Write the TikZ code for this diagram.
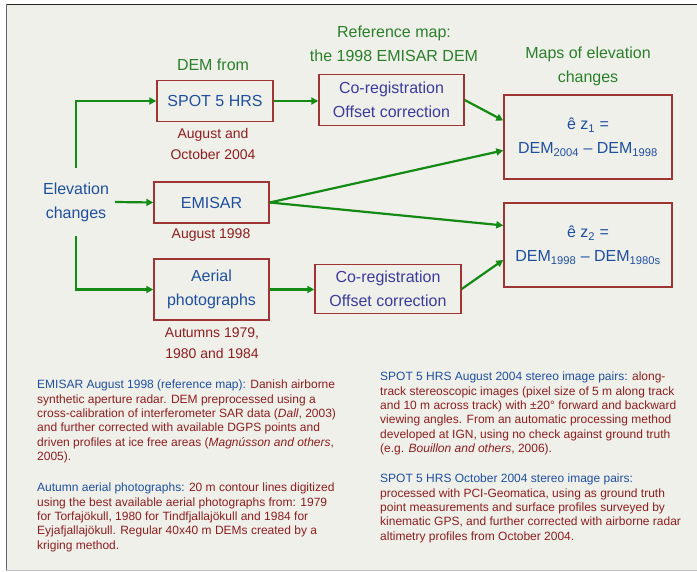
\documentclass[tikz,border=0pt]{standalone}
\usepackage{fontspec}
\setmainfont{Liberation Sans}
\usetikzlibrary{arrows.meta}

\definecolor{txtblue}{HTML}{1F4FA0}
\definecolor{coregblue}{HTML}{3B3B9E}
\definecolor{ttlgreen}{HTML}{2A7F2A}
\definecolor{arrgreen}{HTML}{138A13}
\definecolor{datered}{HTML}{8E1E1E}
\definecolor{boxred}{HTML}{9E3434}
\definecolor{bgpaper}{HTML}{F0F0EB}

\tikzset{
  box/.style={draw=boxred, line width=1.4pt, text=txtblue, align=center,
    inner sep=0pt, font=\fontsize{16}{24}\selectfont},
  coregbox/.style={box, text=coregblue, minimum width=146, minimum height=50},
  ttl/.style={text=ttlgreen, align=center, inner sep=0pt, font=\fontsize{16}{24.5}\selectfont},
  datelbl/.style={text=datered, align=center, inner sep=0pt, font=\fontsize{14}{21.5}\selectfont},
  note/.style={text=datered, align=left, inner sep=0pt, anchor=north west,
    font=\fontsize{12}{14.3}\selectfont},
  arr/.style={-{Triangle[length=7pt,width=7pt]}, draw=arrgreen, line width=2.2pt}
}
\newcommand{\hl}[1]{{\color{txtblue}#1}}

\begin{document}
\begin{tikzpicture}[x=1pt,y=-1pt]
\useasboundingbox (0,0) rectangle (697,572);

% paper and frame
\fill[white] (0,0) rectangle (697,572);
\fill[bgpaper] (6,4) rectangle (697,570);
\draw[line width=1.5pt, black!85] (6,4.5) -- (697,4.5);
\draw[line width=1.2pt, black!60] (6.5,4) -- (6.5,570);
\draw[line width=1.2pt, black!25] (6,570.5) -- (697,570.5);

% sources
\node[text=txtblue, align=center, inner xsep=6pt, inner ysep=14pt,
  font=\fontsize{16}{24}\selectfont] (elev) at (76,202) {Elevation\\changes};
\node[box, minimum width=116, minimum height=41] (spot) at (215,101) {SPOT 5 HRS};
\node[box, minimum width=115, minimum height=41] (emisar) at (211.5,202.5) {EMISAR};
\node[box, minimum width=115, minimum height=61] (aerial) at (211.5,289.5) {Aerial\\photographs};

\node[ttl] (demfrom) at (213,65) {DEM from};
\node[datelbl] (spotdate) at (213,144) {August and\\October 2004};
\node[datelbl] (emisardate) at (211,235.5) {August 1998};
\node[datelbl] (aerialdate) at (212,343) {Autumns 1979,\\1980 and 1984};

% co-registration
\node[coregbox, minimum width=145, minimum height=51] (coreg1) at (391.5,100) {Co-registration\\Offset correction};
\node[coregbox, minimum height=49] (coreg2) at (388,289) {Co-registration\\Offset correction};
\node[ttl] (refmap) at (394,44) {Reference map:\\the 1998 EMISAR DEM};

% results
\node[ttl] (mapsttl) at (588,66.5) {Maps of elevation\\changes};
\node[box, minimum width=168, minimum height=84] (diff1) at (588,137)
  {ê z\textsubscript{1} =\\DEM\textsubscript{2004} -- DEM\textsubscript{1998}};
\node[box, minimum width=168, minimum height=84] (diff2) at (588,245)
  {ê z\textsubscript{2} =\\DEM\textsubscript{1998} -- DEM\textsubscript{1980s}};

% connectors
\draw[arr] (elev.north) |- (spot.west);
\draw[arr] (elev.east) -- (emisar.west);
\draw[arr] (elev.south) |- (aerial.west);
\draw[arr] (spot.east) -- (coreg1.west |- spot.east);
\draw[arr] (aerial.east) -- (coreg2.west |- aerial.east);
\draw[arr] (coreg1.east) -- (diff1.169);
\draw[arr] (emisar.east) -- (diff1.189);
\draw[arr] (emisar.east) -- (diff2.167);
\draw[arr] (coreg2.east) -- (diff2.190);

% notes
\node[note] (emisarnote) at (37,380) {\hl{EMISAR August 1998 (reference map):} Danish airborne\\
synthetic aperture radar. DEM preprocessed using a\\
cross-calibration of interferometer SAR data (\textit{Dall}, 2003)\\
and further corrected with available DGPS points and\\
driven profiles at ice free areas (\textit{Magnússon and others},\\
2005).};
\node[note] (aerialnote) at (37,483) {\hl{Autumn aerial photographs:} 20 m contour lines digitized\\
using the best available aerial photographs from: 1979\\
for Torfajökull, 1980 for Tindfjallajökull and 1984 for\\
Eyjafjallajökull. Regular 40x40 m DEMs created by a\\
kriging method.};
\node[note] (augnote) at (380,372) {\hl{SPOT 5 HRS August 2004 stereo image pairs:} along-\\
track stereoscopic images (pixel size of 5 m along track\\
and 10 m across track) with ±20° forward and backward\\
viewing angles. From an automatic processing method\\
developed at IGN, using no check against ground truth\\
(e.g. \textit{Bouillon and others}, 2006).};
\node[note] (octnote) at (380,474) {\hl{SPOT 5 HRS October 2004 stereo image pairs:}\\
processed with PCI-Geomatica, using as ground truth\\
point measurements and surface profiles surveyed by\\
kinematic GPS, and further corrected with airborne radar\\
altimetry profiles from October 2004.};
\end{tikzpicture}
\end{document}
